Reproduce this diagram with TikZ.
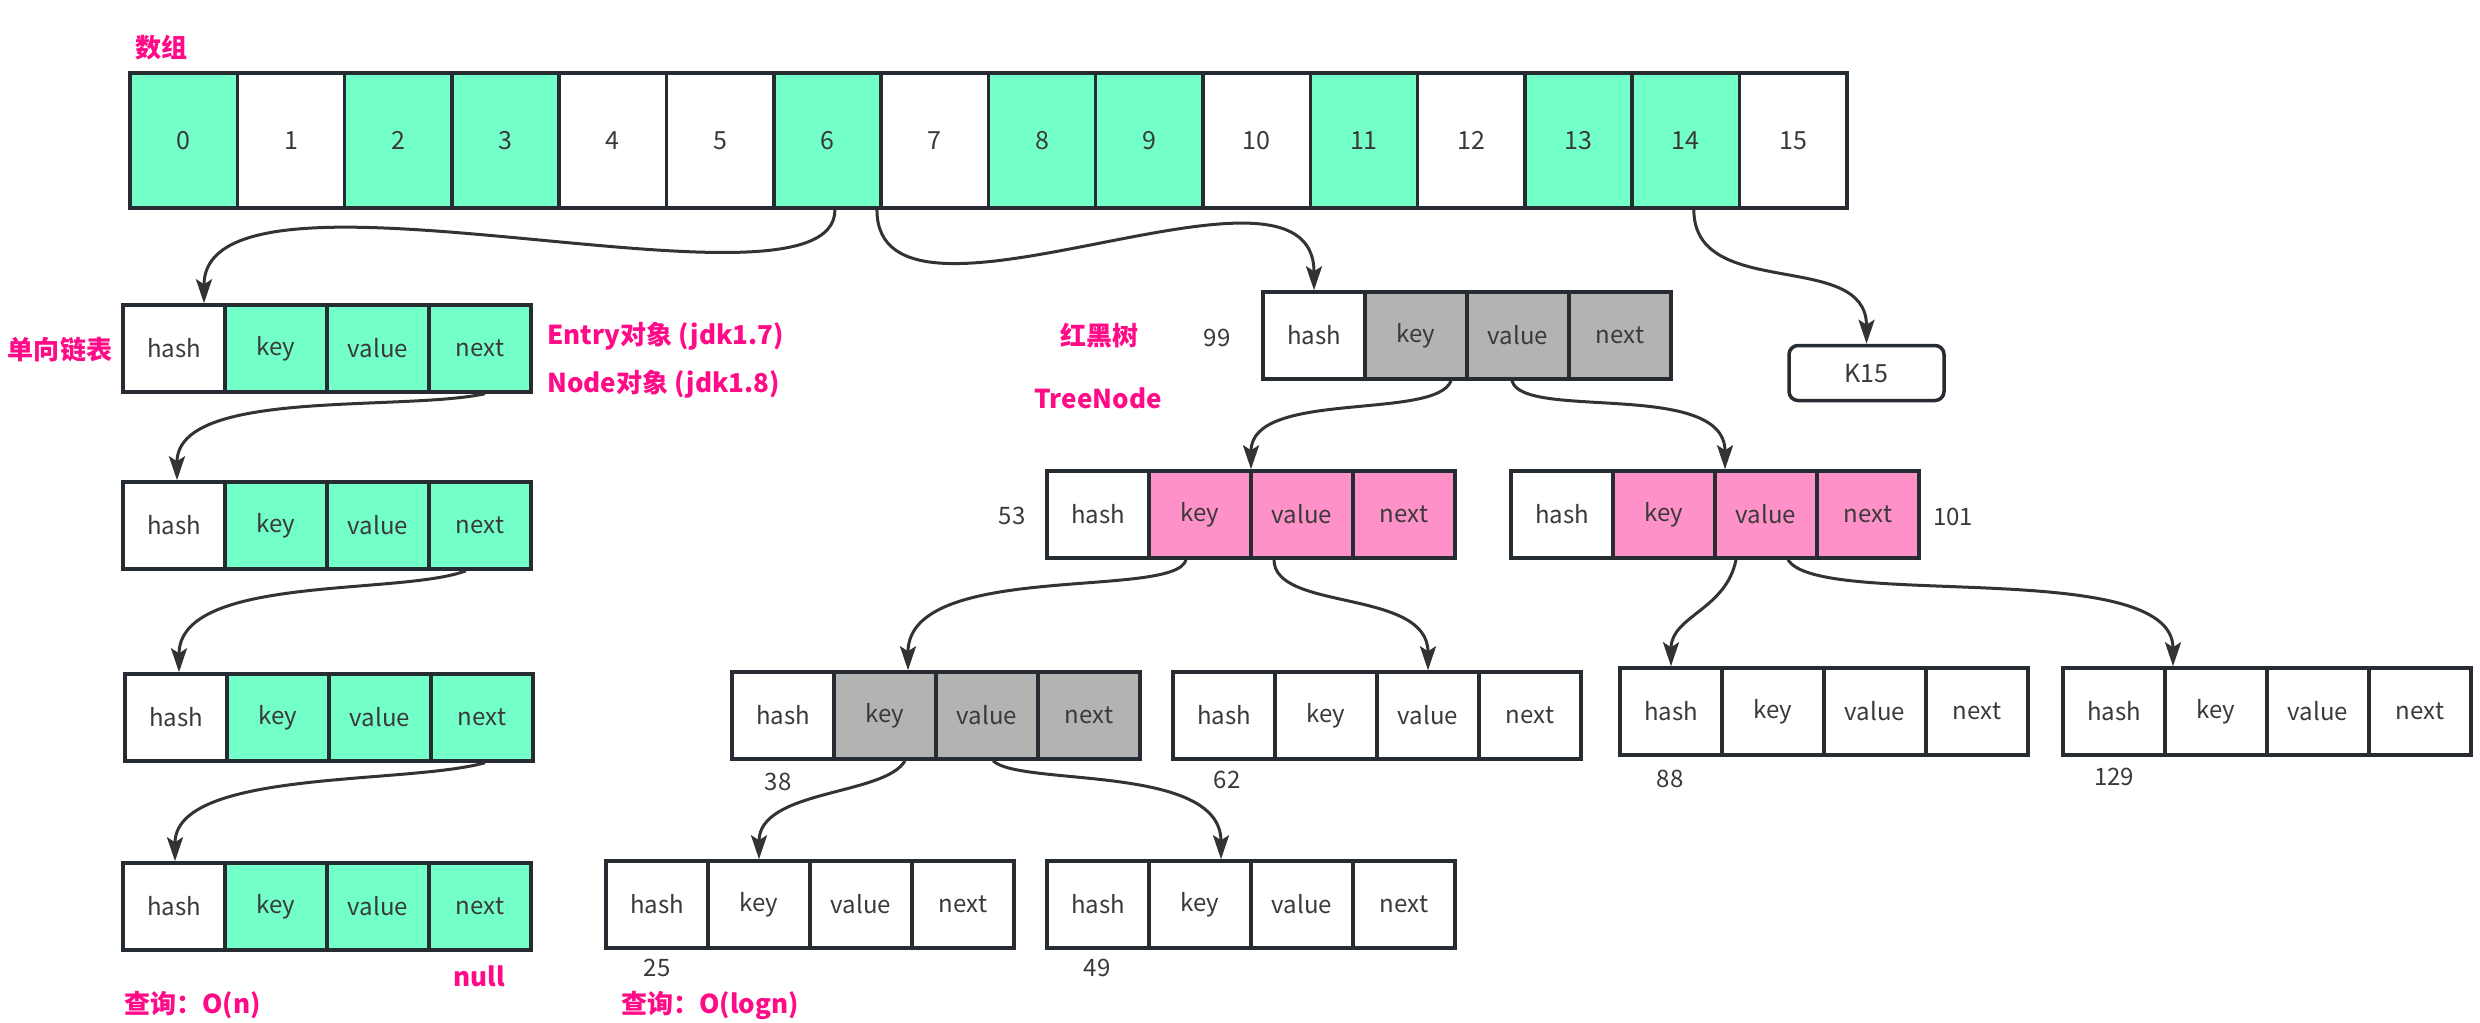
\documentclass[tikz,border=0pt]{standalone}
\usepackage{fontspec}
\setmainfont{Noto Sans CJK SC}
\usetikzlibrary{arrows.meta,calc}
\definecolor{mint}{HTML}{73FFC8}
\definecolor{rose}{HTML}{FF91C9}
\definecolor{greyfill}{HTML}{B3B3B3}
\definecolor{edgecol}{HTML}{262C31}
\definecolor{linecol}{HTML}{333333}
\definecolor{txt}{HTML}{3A3A3A}
\definecolor{hot}{HTML}{FF0A87}
\newcommand\rec[5]{%
  \node[cell,fill=#4] (#1-h) at (#2+51,#3+43.5) {hash};
  \node[cell,fill=#5] (#1-k) at (#2+153,#3+43.5) {key};
  \node[cell,fill=#5] (#1-v) at (#2+255,#3+43.5) {value};
  \node[cell,fill=#5] (#1-n) at (#2+357,#3+43.5) {next};
}
\begin{document}
\begin{tikzpicture}[x=1pt,y=-1pt,
  cell/.style={draw=edgecol,line width=3.5pt,minimum width=102pt,minimum height=87pt,inner sep=0pt,font=\fontsize{24}{24}\selectfont,text=txt},
  acell/.style={draw=edgecol,line width=3.5pt,minimum width=107.3pt,minimum height=135pt,inner sep=0pt,font=\fontsize{25}{25}\selectfont,text=txt},
  hotlabel/.style={text=hot,font=\fontsize{26}{26}\selectfont\bfseries,inner sep=0pt},
  numlabel/.style={text=txt,font=\fontsize{24}{24}\selectfont,inner sep=0pt},
  conn/.style={draw=linecol,line width=3pt,-{Stealth[length=24pt,width=16pt,inset=5pt]}}
]
\fill[white] (0,0) rectangle (2480,1022);
\useasboundingbox (0,0) rectangle (2480,1022);

% array
\foreach \i/\f in {0/mint,1/white,2/mint,3/mint,4/white,5/white,6/mint,7/white,8/mint,9/mint,10/white,11/mint,12/white,13/mint,14/mint,15/white}
  \node[acell,fill=\f] (a-\i) at ({130+(\i+0.5)*107.3},140.5) {\i};
\node[hotlabel] (lbl-array) at (161,48) {数组};

% linked list
\rec{L1}{123}{305}{white}{mint}
\rec{L2}{123}{482}{white}{mint}
\rec{L3}{125}{674}{white}{mint}
\rec{L4}{123}{863}{white}{mint}
\node[hotlabel] (lbl-list) at (60,350) {单向链表};
\node[hotlabel,anchor=west] (lbl-entry) at (547,336) {Entry对象 (jdk1.7)};
\node[hotlabel,anchor=west] (lbl-node) at (547,384) {Node对象 (jdk1.8)};
\node[hotlabel] (lbl-null) at (479,976) {null};
\node[hotlabel,anchor=west] (lbl-on) at (124,1005) {查询：O(n)};

% tree
\rec{T99}{1263}{292}{white}{greyfill}
\rec{T53}{1047}{471}{white}{rose}
\rec{T101}{1511}{471}{white}{rose}
\rec{T38}{732}{672}{white}{greyfill}
\rec{T62}{1173}{672}{white}{white}
\rec{T88}{1620}{668}{white}{white}
\rec{T129}{2063}{668}{white}{white}
\rec{T25}{606}{861}{white}{white}
\rec{T49}{1047}{861}{white}{white}
\node[hotlabel] (lbl-rb) at (1099,336) {红黑树};
\node[hotlabel] (lbl-tn) at (1098,398) {TreeNode};
\node[hotlabel,anchor=base west] (lbl-ologn) at (621,1013) {查询：O(logn)};

\node[numlabel] (n99) at (1217,338) {99};
\node[numlabel] (n53) at (1012,516) {53};
\node[numlabel] (n101) at (1953,517) {101};
\node[numlabel] (n38) at (778,782) {38};
\node[numlabel] (n62) at (1227,780) {62};
\node[numlabel] (n88) at (1670,779) {88};
\node[numlabel] (n129) at (2114,777) {129};
\node[numlabel] (n25) at (657,968) {25};
\node[numlabel] (n49) at (1097,968) {49};

% K15
\node[draw=edgecol,line width=3.5pt,rounded corners=9pt,minimum width=155pt,minimum height=55pt,inner sep=0pt,font=\fontsize{25}{25}\selectfont,text=txt] (K15) at (1866.5,373) {K15};

% connectors
\draw[conn] ([xshift=7.5pt]a-6.south) .. controls +(0,122) and +(0,-165) .. ([xshift=30pt]L1-h.north);
\draw[conn] ([xshift=49.5pt]a-6.south) .. controls +(0,152) and +(0,-162) .. (T99-h.north);
\draw[conn] ([xshift=8pt]a-14.south) .. controls +(0,92) and +(0,-95) .. (K15.north);
\draw[conn] ([xshift=35pt]T99-k.south) .. controls +(-15,40) and +(0,-80) .. ([xshift=-51pt]T53-v.north);
\draw[conn] ([xshift=-6pt]T99-v.south) .. controls +(10,40) and +(0,-90) .. ([xshift=-41pt]T101-v.north);
\draw[conn] ([xshift=-14pt]T53-k.south) .. controls +(-10,40) and +(0,-110) .. ([xshift=23pt]T38-k.north);
\draw[conn] ([xshift=-28pt]T53-v.south) .. controls +(0,52) and +(0,-82) .. (T62-v.north);
\draw[conn] ([xshift=-30pt]T101-v.south) .. controls +(-10,50) and +(0,-50) .. (T88-h.north);
\draw[conn] ([xshift=22pt]T101-v.south) .. controls +(30,50) and +(0,-110) .. ([xshift=-43pt]T129-k.north);
\draw[conn] ([xshift=20pt]T38-k.south) .. controls +(-20,35) and +(0,-70) .. (T25-k.north);
\draw[conn] ([xshift=6pt]T38-v.south) .. controls +(27,26) and +(0,-96) .. ([xshift=21pt]T49-k.north);
\draw[conn] ([xshift=5pt]L1-n.south) .. controls +(-85,18) and +(0,-92) .. ([xshift=3pt]L2-h.north);
\draw[conn] ([xshift=-14pt]L2-n.south) .. controls +(-66,25) and +(0,-98) .. ([xshift=3pt]L3-h.north);
\draw[conn] ([xshift=3pt]L3-n.south) .. controls +(-80,22) and +(0,-92) .. ([xshift=1pt]L4-h.north);
\end{tikzpicture}
\end{document}
